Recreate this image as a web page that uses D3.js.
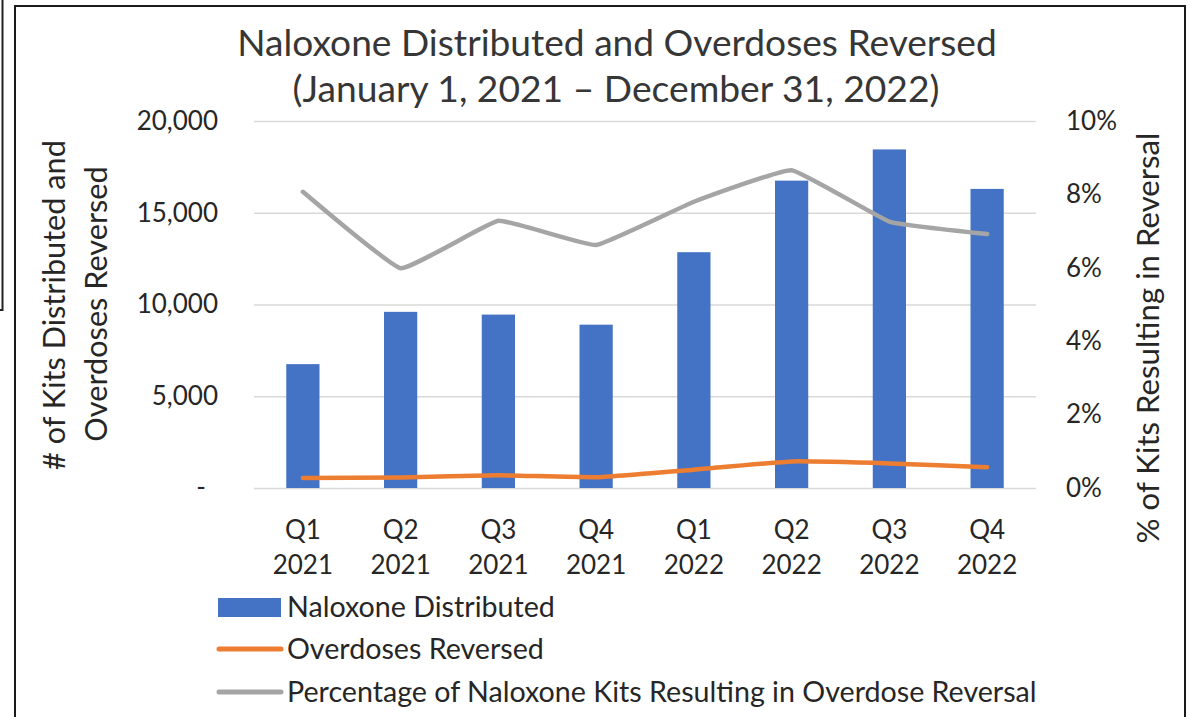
<!DOCTYPE html>
<html>
<head>
<meta charset="utf-8">
<script src="https://cdn.jsdelivr.net/npm/d3@7"></script>
<style>
  html, body { margin: 0; padding: 0; background: #fff; }
  svg text { font-family: Lato, "Open Sans", sans-serif; }
</style>
</head>
<body>
<svg id="chart" width="1195" height="717"></svg>
<script>
// ---- data ----
const categories = ["Q1 2021", "Q2 2021", "Q3 2021", "Q4 2021", "Q1 2022", "Q2 2022", "Q3 2022", "Q4 2022"];
const quarterLabels = ["Q1", "Q2", "Q3", "Q4", "Q1", "Q2", "Q3", "Q4"];
const yearLabels = ["2021", "2021", "2021", "2021", "2022", "2022", "2022", "2022"];
const naloxoneDistributed = [6750, 9600, 9450, 8900, 12850, 16750, 18450, 16300];
const overdosesReversed = [545, 575, 690, 590, 1000, 1450, 1340, 1130];
const percentReversal = [0.0807, 0.0599, 0.0728, 0.0662, 0.0780, 0.0866, 0.0726, 0.0692];
const leftTicks = [0, 5000, 10000, 15000, 20000];
const rightTicks = [0, 0.02, 0.04, 0.06, 0.08, 0.10];
const titleLines = ["Naloxone Distributed and Overdoses Reversed", "(January 1, 2021 \u2013 December 31, 2022)"];
const leftTitleLines = ["# of Kits Distributed and", "Overdoses Reversed"];
const rightTitle = "% of Kits Resulting in Reversal";
const legendLabels = ["Naloxone Distributed", "Overdoses Reversed", "Percentage of Naloxone Kits Resulting in Overdose Reversal"];

const colors = { bar: "#4472C4", orange: "#ED7D31", gray: "#A5A5A5", grid: "#D9D9D9", text: "#262626", title: "#363636" };

const svg = d3.select("#chart");

function fitWidth(sel, w) {
  const cur = sel.node().getComputedTextLength();
  const fs = parseFloat(sel.attr("font-size"));
  const nfs = fs * w / cur;
  sel.attr("font-size", nfs);
  return nfs;
}

// frames
svg.append("path").attr("d", "M2.5,0 V310 H0").attr("fill", "none").attr("stroke", "#222").attr("stroke-width", 2);
svg.append("rect").attr("x", 15).attr("y", 6).attr("width", 1170).attr("height", 740)
  .attr("fill", "none").attr("stroke", "#1a1a1a").attr("stroke-width", 2);

// scales
const x = d3.scaleBand().domain(categories).range([254, 1036]).paddingInner(0.66).paddingOuter(0.33);
const y = d3.scaleLinear().domain([0, 20000]).range([488, 121]);
const y2 = d3.scaleLinear().domain([0, 0.10]).range([488, 121]);
const cx = d => x(d) + x.bandwidth() / 2;

// gridlines
const yAxisGrid = d3.axisLeft(y).tickValues(leftTicks).tickSize(-(1036 - 254)).tickFormat("");
const gGrid = svg.append("g").attr("transform", "translate(254,0)").call(yAxisGrid);
gGrid.select(".domain").remove();
gGrid.selectAll("line").attr("stroke", colors.grid).attr("stroke-width", 1.5);

// left axis labels
const gl = svg.append("g").attr("transform", "translate(218,0)")
  .call(d3.axisLeft(y).tickValues(leftTicks).tickSize(0).tickPadding(0)
    .tickFormat(d => d === 0 ? "" : d3.format(",")(d)));
gl.select(".domain").remove();
gl.selectAll("text").attr("font-size", 26).attr("fill", colors.text).attr("font-family", "Lato");
svg.append("text").attr("x", 201).attr("y", y(0)).attr("dy", "0.32em").attr("text-anchor", "middle")
  .attr("font-size", 26).attr("fill", colors.text).text("-");

// right axis labels
const gr = svg.append("g").attr("transform", "translate(1066,0)")
  .call(d3.axisRight(y2).tickValues(rightTicks).tickSize(0).tickPadding(0).tickFormat(d3.format(".0%")));
gr.select(".domain").remove();
gr.selectAll("text").attr("font-size", 26).attr("fill", colors.text).attr("font-family", "Lato");

// bars
svg.append("g").selectAll("rect").data(categories).join("rect")
  .attr("x", d => x(d)).attr("width", x.bandwidth())
  .attr("y", (d, i) => y(naloxoneDistributed[i]))
  .attr("height", (d, i) => y(0) - y(naloxoneDistributed[i]))
  .attr("fill", colors.bar);

// lines
const curve = d3.curveCardinal.tension(0.7);
const lineLeft = d3.line().x((d, i) => cx(categories[i])).y(d => y(d)).curve(curve);
const lineRight = d3.line().x((d, i) => cx(categories[i])).y(d => y2(d)).curve(curve);
svg.append("path").datum(overdosesReversed).attr("d", lineLeft).attr("fill", "none")
  .attr("stroke", colors.orange).attr("stroke-width", 4.5).attr("stroke-linecap", "round").attr("stroke-linejoin", "round");
svg.append("path").datum(percentReversal).attr("d", lineRight).attr("fill", "none")
  .attr("stroke", colors.gray).attr("stroke-width", 4.5).attr("stroke-linecap", "round").attr("stroke-linejoin", "round");

// x labels
const gx = svg.append("g");
gx.selectAll("text.q").data(categories).join("text").attr("class", "q")
  .attr("x", d => cx(d)).attr("y", 530).attr("dy", "0.35em").attr("text-anchor", "middle")
  .attr("font-size", 26).attr("fill", colors.text).text((d, i) => quarterLabels[i]);
gx.selectAll("text.yr").data(categories).join("text").attr("class", "yr")
  .attr("x", d => cx(d)).attr("y", 565).attr("dy", "0.35em").attr("text-anchor", "middle")
  .attr("font-size", 26).attr("fill", colors.text).text((d, i) => yearLabels[i]);

// title
const t1 = svg.append("text").attr("x", 617).attr("y", 56).attr("text-anchor", "middle")
  .attr("font-size", 36).attr("fill", colors.title).text(titleLines[0]);
fitWidth(t1, 760);
const t2 = svg.append("text").attr("x", 616).attr("y", 102).attr("text-anchor", "middle")
  .attr("font-size", 36).attr("fill", colors.title).text(titleLines[1]);
fitWidth(t2, 647);

// left axis title
const lt1 = svg.append("text").attr("transform", "translate(65,305) rotate(-90)").attr("text-anchor", "middle")
  .attr("font-size", 28).attr("fill", colors.text).text(leftTitleLines[0]);
const lfs = fitWidth(lt1, 330);
svg.append("text").attr("transform", "translate(107,304) rotate(-90)").attr("text-anchor", "middle")
  .attr("font-size", lfs).attr("fill", colors.text).text(leftTitleLines[1]);

// right axis title
const rt = svg.append("text").attr("transform", "translate(1159,338) rotate(-90)").attr("text-anchor", "middle")
  .attr("font-size", 28).attr("fill", colors.text).text(rightTitle);
fitWidth(rt, 411);

// legend
const lg = svg.append("g");
lg.append("rect").attr("x", 218).attr("y", 598).attr("width", 63).attr("height", 19).attr("fill", colors.bar);
lg.append("line").attr("x1", 219).attr("x2", 281).attr("y1", 649).attr("y2", 649)
  .attr("stroke", colors.orange).attr("stroke-width", 5).attr("stroke-linecap", "round");
lg.append("line").attr("x1", 219).attr("x2", 281).attr("y1", 692).attr("y2", 692)
  .attr("stroke", colors.gray).attr("stroke-width", 5).attr("stroke-linecap", "round");
const legY = [607, 649, 692];
const lt = lg.selectAll("text").data(legendLabels).join("text")
  .attr("x", 287).attr("y", (d, i) => legY[i]).attr("dy", "0.35em")
  .attr("font-size", 25).attr("fill", colors.text).text(d => d);
const lfs2 = fitWidth(d3.select(lt.nodes()[2]), 750);
lt.attr("font-size", lfs2);
</script>
</body>
</html>
